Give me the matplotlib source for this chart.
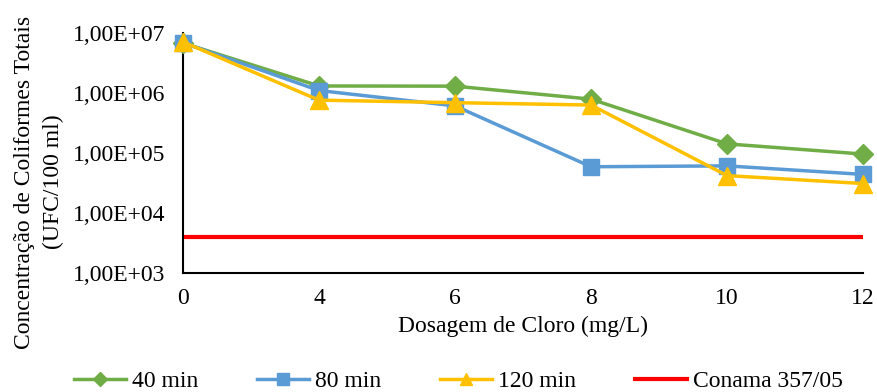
import matplotlib
matplotlib.use("Agg")
import matplotlib.pyplot as plt
import numpy as np

plt.rcParams['font.family'] = ['Liberation Serif', 'DejaVu Serif']

doses = ["0", "4", "6", "8", "10", "12"]
min40 = [6.8e6, 1.31e6, 1.30e6, 7.9e5, 1.42e5, 9.6e4]
min80 = [6.9e6, 1.10e6, 6.1e5, 5.9e4, 6.1e4, 4.4e4]
min120 = [7.1e6, 7.6e5, 6.9e5, 6.3e5, 4.2e4, 3.1e4]
conama = [4000] * 6
ytick_vals = [1e3, 1e4, 1e5, 1e6, 1e7]
ytick_labels = ["1,00E+03", "1,00E+04", "1,00E+05", "1,00E+06", "1,00E+07"]

FS = 17

fig = plt.figure(figsize=(8.77, 3.92), dpi=100)
ax = fig.add_axes([183/877, 1 - 273/392, (863-183)/877, (273-33)/392])
x = np.arange(len(doses))

ax.plot(x, min40, color='#70AD47', lw=2.5, marker='D', ms=10, label='40 min', zorder=3, clip_on=False)
ax.plot(x, min80, color='#5B9BD5', lw=2.5, marker='s', ms=11.5, label='80 min', zorder=4, clip_on=False)
ax.plot(x, min120, color='#FFC000', lw=2.5, marker='^', ms=12.5, label='120 min', zorder=5, clip_on=False)
ax.plot(x, conama, color='#FF0000', lw=3, label='Conama 357/05', zorder=2)

ax.set_yscale('log')
ax.set_ylim(1e3, 1e7)
ax.set_xlim(0, len(doses) - 1)
ax.set_yticks(ytick_vals)
ax.set_yticklabels(ytick_labels)
ax.minorticks_off()
ax.set_xticks(x)
ax.set_xticklabels(doses)
ax.tick_params(axis='both', length=0, labelsize=FS)
ax.tick_params(axis='y', pad=13)
ax.tick_params(axis='x', pad=11)
for s in ['top', 'right']:
    ax.spines[s].set_visible(False)
for s in ['left', 'bottom']:
    ax.spines[s].set_linewidth(1.5)
    ax.spines[s].set_color('black')

ax.set_xlabel('Dosagem de Cloro (mg/L)', fontsize=FS, labelpad=5)
fig.text(39/877, 1 - 182/392, 'Concentração de Coliformes Totais\n(UFC/100 ml)', fontsize=FS,
         rotation=90, ha='center', va='center', multialignment='center', linespacing=1.45)

leg = fig.legend(loc='center', bbox_to_anchor=(0.523, 11/392), ncol=4, frameon=False,
                 fontsize=FS, handlelength=2.2, columnspacing=2.5, handletextpad=0.25,
                 markerscale=0.7)

fig.savefig('out.png', dpi=100)
